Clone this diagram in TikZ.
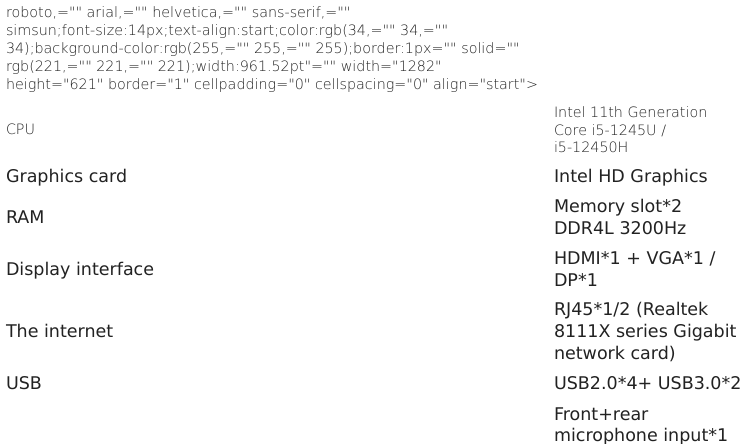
\documentclass[tikz,border=0pt]{standalone}
\usepackage{fontspec}
\setmainfont{DejaVu Sans}
\newfontfamily\thinfont{DejaVu Sans ExtraLight}
\definecolor{tc}{RGB}{34,34,34}
\tikzset{
  txt/.style={anchor=base west, inner sep=0pt, outer sep=0pt, text=tc},
  sm/.style={txt, font=\thinfont\fontsize{14.3}{17.5}\selectfont},
  lg/.style={txt, font=\fontsize{17.5}{22}\selectfont}
}
\begin{document}
\begin{tikzpicture}[x=1pt,y=-1pt]
\useasboundingbox[fill=white] (0,0) rectangle (750,444);
% leaked HTML attribute text
\node[sm] (h1) at (6,17.8) {roboto,="" arial,="" helvetica,="" sans-serif,=""};
\node[sm] (h2) at (6,35.8) {simsun;font-size:14px;text-align:start;color:rgb(34,="" 34,=""};
\node[sm] (h3) at (6,53.8) {34);background-color:rgb(255,="" 255,="" 255);border:1px="" solid=""};
\node[sm] (h4) at (6,71.8) {rgb(221,="" 221,="" 221);width:961.52pt"="" width="1282"};
\node[sm] (h5) at (6,89.8) {height="621" border="1" cellpadding="0" cellspacing="0" align="start">};
% left column
\node[sm] (cpu) at (6,134.6) {CPU};
\node[lg] (gpu) at (6,182.3) {Graphics card};
\node[lg] (ram) at (6,223) {RAM};
\node[lg] (disp) at (6,275.4) {Display interface};
\node[lg] (net) at (6,337.8) {The internet};
\node[lg] (usb) at (6,389.5) {USB};
% right column
\node[sm] (cpuv1) at (554,117.3) {Intel 11th Generation};
\node[sm] (cpuv2) at (554,135) {Core i5-1245U /};
\node[sm] (cpuv3) at (554,152.4) {i5-12450H};
\node[lg] (gpuv) at (554,182.3) {Intel HD Graphics};
\node[lg] (ramv1) at (554,212.3) {Memory slot*2};
\node[lg] (ramv2) at (554,234.2) {DDR4L 3200Hz};
\node[lg] (dispv1) at (554,264.4) {HDMI*1 + VGA*1 /};
\node[lg] (dispv2) at (554,286.6) {DP*1};
\node[lg] (netv1) at (554,315.6) {RJ45*1/2 (Realtek};
\node[lg] (netv2) at (554,337.6) {8111X series Gigabit};
\node[lg] (netv3) at (554,359.6) {network card)};
\node[lg] (usbv) at (554,389.5) {USB2.0*4+ USB3.0*2};
\node[lg] (audv1) at (554,420.8) {Front+rear};
\node[lg] (audv2) at (554,441.6) {microphone input*1};
\end{tikzpicture}
\end{document}
